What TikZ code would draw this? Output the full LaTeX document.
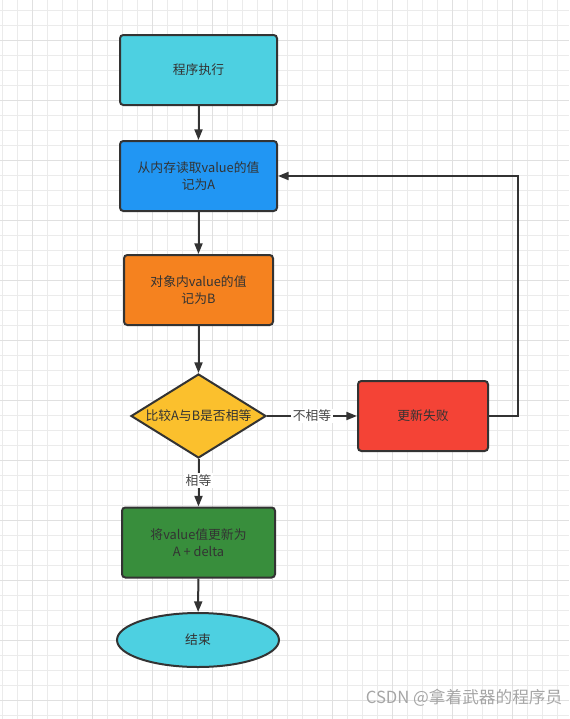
\documentclass[tikz,border=0pt]{standalone}
\usepackage{fontspec}
\setmainfont{Noto Sans CJK SC}
\usetikzlibrary{shapes.geometric,arrows.meta}
\definecolor{gridc}{HTML}{EBEBEB}
\definecolor{gridm}{HTML}{E0E0E0}
\definecolor{linec}{HTML}{333333}
\definecolor{cyanc}{HTML}{4DD0E1}
\definecolor{bluec}{HTML}{2196F3}
\definecolor{orangec}{HTML}{F5821F}
\definecolor{yellowc}{HTML}{FBC02D}
\definecolor{redc}{HTML}{F44336}
\definecolor{greenc}{HTML}{388E3C}
\tikzset{
  box/.style={draw=linec, line width=1.5pt, rounded corners=2.5pt, minimum width=#1*0.75pt, minimum height=70*0.75pt, inner sep=0pt, align=center, text=linec, font=\fontsize{9.6}{12.5}\selectfont},
  box/.default=157,
  flow/.style={draw=linec, line width=1.5pt, -{Triangle[length=8pt,width=6pt]}},
  lbl/.style={fill=white, inner sep=1pt, text=linec!90, font=\fontsize{9.6}{11}\selectfont}
}
\begin{document}
\begin{tikzpicture}[x=0.75pt,y=-0.75pt]
\useasboundingbox (0,0) rectangle (569,719);
\fill[white] (0,0) rectangle (569,719);
\foreach \i in {0,...,38} {
  \draw[gridc, line width=0.75pt] ({2+15*\i},0) -- ({2+15*\i},719);
}
\foreach \j in {0,...,48} {
  \draw[gridc, line width=0.75pt] (0,{10+15*\j}) -- (569,{10+15*\j});
}
\foreach \i in {0,...,9} {
  \draw[gridm, line width=0.75pt] ({32+60*\i},0) -- ({32+60*\i},719);
}
\foreach \j in {0,...,11} {
  \draw[gridm, line width=0.75pt] (0,{40+60*\j}) -- (569,{40+60*\j});
}

\node[box, fill=cyanc] (start) at (198.5,70) {程序执行};
\node[box, fill=bluec] (readA) at (198.5,176) {从内存读取value的值\\记为A};
\node[box=149, fill=orangec] (readB) at (198.5,290) {对象内value的值\\记为B};
\node[diamond, draw=linec, line width=1.5pt, fill=yellowc, aspect=1.6, minimum width=135*0.75pt, minimum height=84*0.75pt, inner sep=0pt, text=linec, font=\fontsize{9.6}{12}\selectfont] (cmp) at (198.5,416) {比较A与B是否相等};
\node[box=130, fill=redc] (fail) at (423,416) {更新失败};
\node[box=153, fill=greenc] (upd) at (198.5,542.5) {将value值更新为\\A + delta};
\node[ellipse, draw=linec, line width=1.5pt, fill=cyanc, minimum width=162*0.75pt, minimum height=54*0.75pt, inner sep=0pt, text=linec, font=\fontsize{9.6}{12}\selectfont] (end) at (198,640) {结束};

\coordinate (c1) at (518,416);
\coordinate (c2) at (518,176);

\draw[flow] (start) -- (readA);
\draw[flow] (readA) -- (readB);
\draw[flow] (readB) -- (cmp);
\draw[flow] (cmp) -- node[lbl] {不相等} (fail);
\draw[flow] (cmp) -- node[lbl, pos=0.45] {相等} (upd);
\draw[flow] (upd) -- (end);
\draw[flow] (fail.east) -- (c1) -- (c2) -- (readA.east);

\node[text=gray!70, font=\fontsize{12.5}{14}\selectfont, anchor=east] (wm) at (567,698) {CSDN @拿着武器的程序员};
\end{tikzpicture}
\end{document}
